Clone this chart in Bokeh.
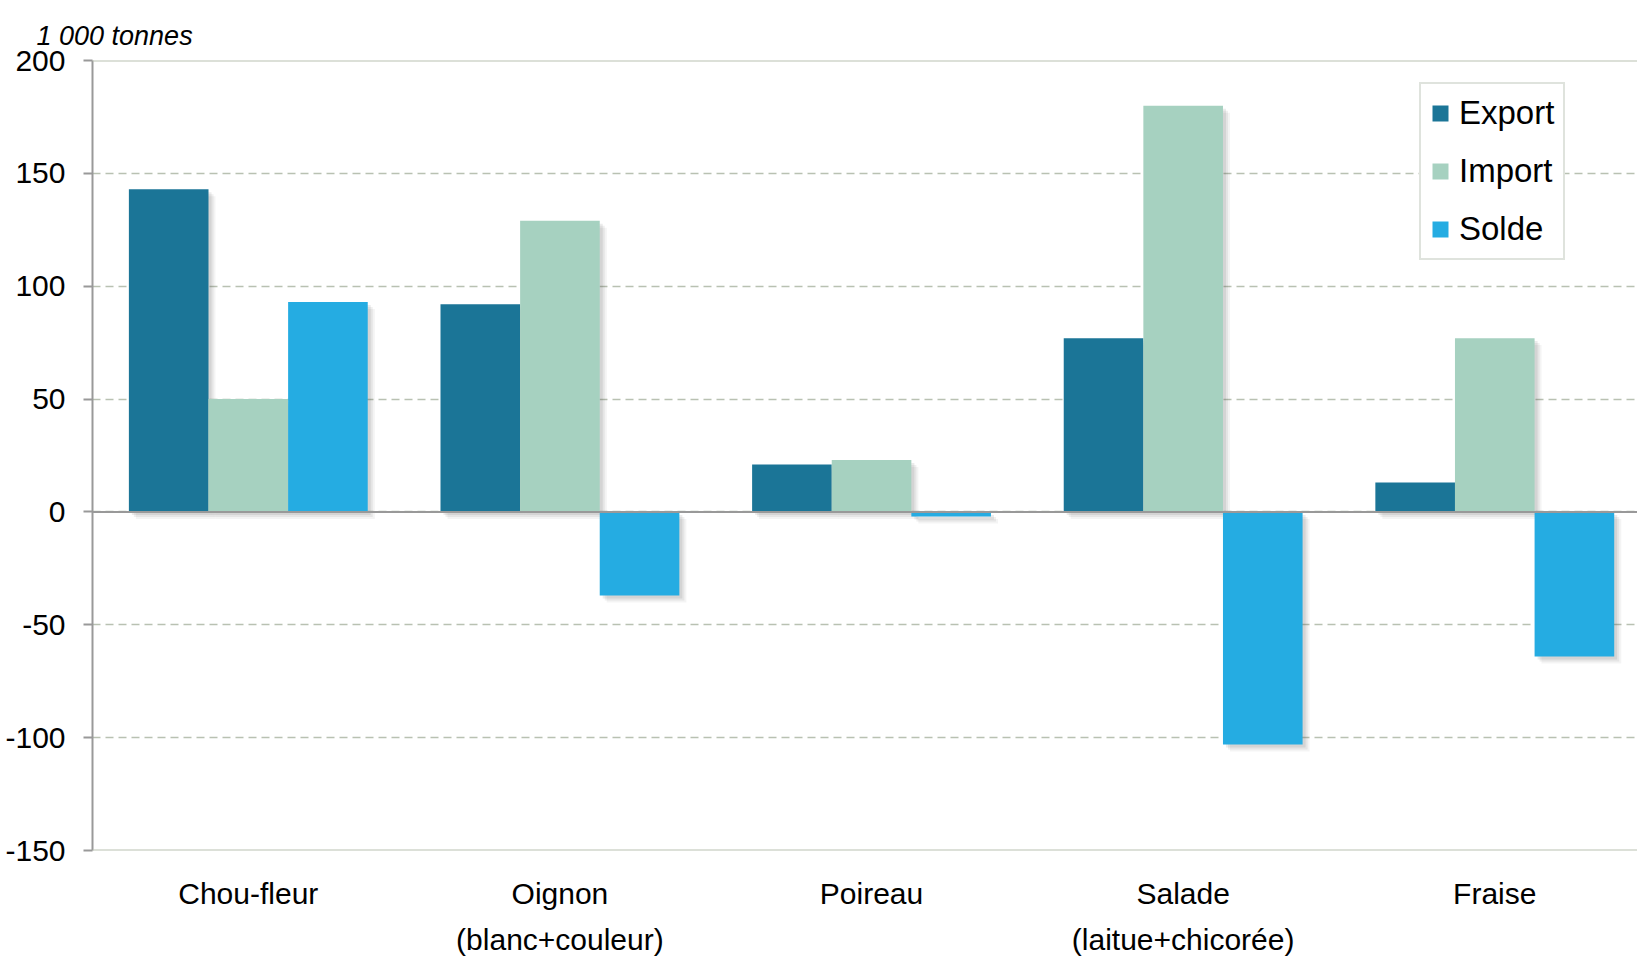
from bokeh.plotting import figure
from bokeh.models import Range1d, FixedTicker, Span, Legend, LegendItem, ColumnDataSource
from bokeh.embed import file_html
from bokeh.resources import INLINE

categories = ["Chou-fleur", "Oignon\n(blanc+couleur)", "Poireau", "Salade\n(laitue+chicorée)", "Fraise"]
export_vals = [143, 92, 21, 77, 13]
import_vals = [50, 129, 23, 180, 77]
solde_vals = [93, -37, -2, -103, -64]
series_names = ["Export", "Import", "Solde"]
series_colors = ["#1b7597", "#a6d1c0", "#25ace2"]
y_ticks = [-150, -100, -50, 0, 50, 100, 150, 200]
y_tick_labels = ["-150", "-100", "-50", "0", "50", "100", "150", "200"]
unit_label = "1 000 tonnes"

FONT = "'Liberation Sans Narrow', 'Arial Narrow', 'Liberation Sans', sans-serif"

W, H = 1637, 958
p = figure(width=W, height=H, output_backend="svg", toolbar_location=None,
           x_range=Range1d(0, 4.958), y_range=Range1d(-150, 200),
           min_border_left=92, min_border_right=0, min_border_top=60, min_border_bottom=107)
p.outline_line_color = None
p.background_fill_color = "white"
p.border_fill_color = "white"

centers = [i + 0.5 for i in range(len(categories))]
bw = 0.2555
offsets = [-bw, 0.0, bw]
all_vals = [export_vals, import_vals, solde_vals]

# soft drop shadows
px_x = 4.958 / (W - 92)
px_y = 350 / 791.0
for k, vals in enumerate(all_vals):
    for d, a in [(3, 0.10), (5, 0.08), (7, 0.06)]:
        xs = [c + offsets[k] for c in centers]
        p.quad(left=[x - bw / 2 + d * px_x for x in xs], right=[x + bw / 2 + d * px_x for x in xs],
               bottom=[min(0, v) - d * px_y for v in vals], top=[max(0, v) - d * px_y for v in vals],
               fill_color="#444444", fill_alpha=a, line_color=None)

renderers = []
for k, vals in enumerate(all_vals):
    src = ColumnDataSource(dict(x=[c + offsets[k] for c in centers], top=vals))
    r = p.vbar(x="x", top="top", bottom=0, width=bw, source=src,
               fill_color=series_colors[k], line_color=None)
    renderers.append(r)

# grid
p.xgrid.grid_line_color = None
p.ygrid.ticker = FixedTicker(ticks=y_ticks)
p.ygrid.grid_line_color = "#b9c1b2"
p.ygrid.grid_line_dash = "8 5"
p.ygrid.grid_line_width = 1.5

for yv in [200, -150]:
    p.add_layout(Span(location=yv, dimension="width", line_color="#b9c1b2", line_width=2))
p.add_layout(Span(location=0, dimension="width", line_color="#999999", line_width=2))

# y axis
ya = p.yaxis[0]
ya.ticker = FixedTicker(ticks=y_ticks)
ya.major_label_overrides = {t: l for t, l in zip(y_ticks, y_tick_labels)}
ya.axis_line_color = "#999999"
ya.axis_line_width = 2
ya.major_tick_line_color = "#999999"
ya.major_tick_line_width = 2
ya.major_tick_in = 0
ya.major_tick_out = 9
ya.minor_tick_line_color = None
ya.major_label_standoff = 18
ya.major_label_text_font = FONT
ya.major_label_text_font_size = "30px"
ya.major_label_text_color = "black"

# x axis
xa = p.xaxis[0]
xa.ticker = FixedTicker(ticks=centers)
xa.major_label_overrides = {c: l for c, l in zip(centers, categories)}
xa.axis_line_color = None
xa.major_tick_line_color = None
xa.minor_tick_line_color = None
xa.major_label_standoff = 20
xa.major_label_text_font = FONT
xa.major_label_text_font_size = "30px"
xa.major_label_text_color = "black"
xa.major_label_text_line_height = 1.4

# unit title (the figure's own title)
p.title.text = unit_label
p.title.align = "left"
p.title.offset = -56
p.title.text_font = FONT
p.title.text_font_size = "27px"
p.title.text_font_style = "italic"
p.title.text_color = "black"
p.title.standoff = 19

legend = Legend(items=[LegendItem(label=n, renderers=[r]) for n, r in zip(series_names, renderers)],
                location=(1327, 590))
legend.border_line_color = "#c0c8bc"
legend.border_line_width = 2
legend.background_fill_color = "white"
legend.background_fill_alpha = 1
legend.label_text_font = FONT
legend.label_text_font_size = "33px"
legend.label_text_color = "black"
legend.glyph_width = 20
legend.glyph_height = 20
legend.label_height = 40
legend.label_standoff = 9
legend.spacing = 18
legend.padding = 9
legend.margin = 0
p.add_layout(legend, "center")

open("out.html", "w").write(file_html(p, INLINE))
